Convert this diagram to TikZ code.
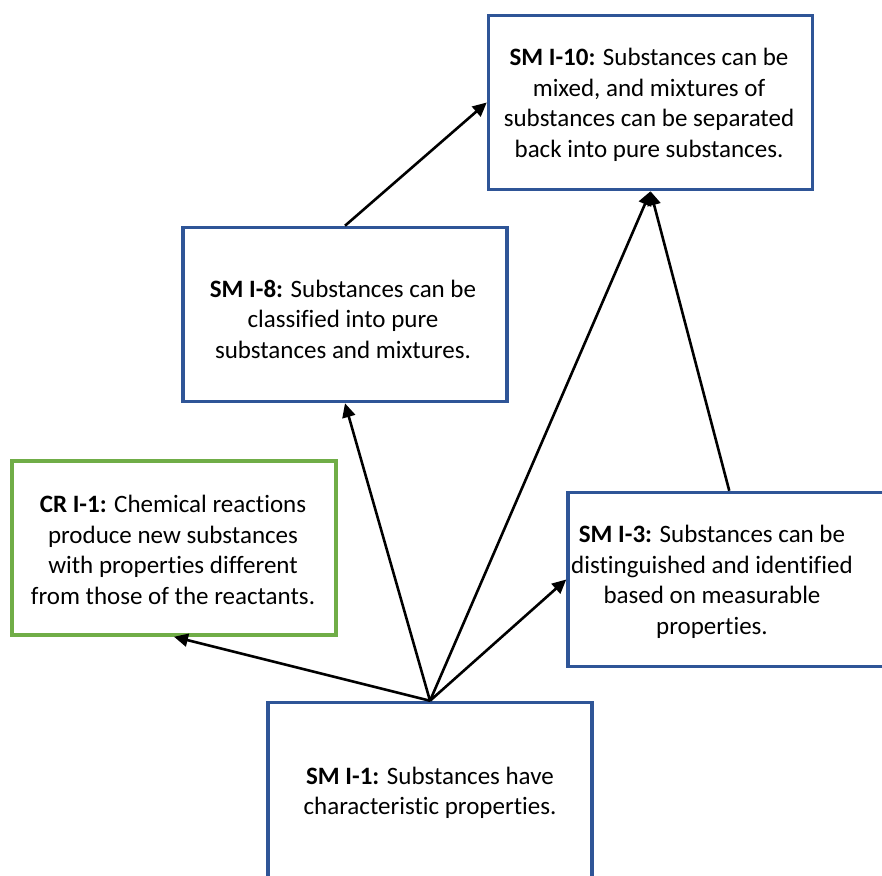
\documentclass[tikz,border=0pt]{standalone}
\usepackage{fontspec}
\setmainfont{Carlito}[Ligatures=NoCommon]
\usetikzlibrary{arrows.meta}
\definecolor{boxblue}{HTML}{2F5597}
\definecolor{boxgreen}{HTML}{70AD47}
\begin{document}
\begin{tikzpicture}[x=1pt,y=-1pt,
 box/.style={draw=boxblue, line width=3.5pt, minimum width=324pt, minimum height=174pt, inner sep=0pt, fill=white},
 gbox/.style={box, draw=boxgreen},
 txt/.style={align=center, font=\fontsize{25}{30.5}\selectfont, inner sep=0pt},
 arr/.style={line width=2.6pt, -{Triangle[length=14pt,width=13pt]}}]
\useasboundingbox (0,0) rectangle (882,875);
\clip (0,0) rectangle (882,875);
% boxes
\node[box] (sm10) at (650.5,102.5) {};
\node[box] (sm8) at (345,314.5) {};
\node[gbox] (cr1) at (174,548) {};
\node[box, minimum width=380pt] (sm3) at (758,579.5) {};
\node[box, minimum height=200pt] (sm1) at (430,802.5) {};
\coordinate (sm3top) at ([xshift=163pt]sm3.north west);
% texts
\node[txt] (sm10t) at (649,105) {\textbf{SM I-10:} Substances can be\\mixed, and mixtures of\\substances can be separated\\back into pure substances.};
\node[txt] (sm8t) at (343,319) {\textbf{SM I-8:} Substances can be\\classified into pure\\substances and mixtures.};
\node[txt] (cr1t) at (173,550) {\textbf{CR I-1:} Chemical reactions\\produce new substances\\with properties different\\from those of the reactants.};
\node[txt] (sm3t) at (712,582) {\textbf{SM I-3:} Substances can be\\distinguished and identified\\based on measurable\\properties.};
\node[txt] (sm1t) at (430,793) {\textbf{SM I-1:} Substances have\\characteristic properties.};
% connectors
\draw[arr] (sm1.north) -- (cr1.south);
\draw[arr] (sm1.north) -- (sm8.south);
\draw[arr] (sm1.north) -- (sm10.south);
\draw[arr] (sm1.north) -- (sm3.west);
\draw[arr] (sm3top) -- (sm10.south);
\draw[arr] (sm8.north) -- (sm10.west);
\end{tikzpicture}
\end{document}
